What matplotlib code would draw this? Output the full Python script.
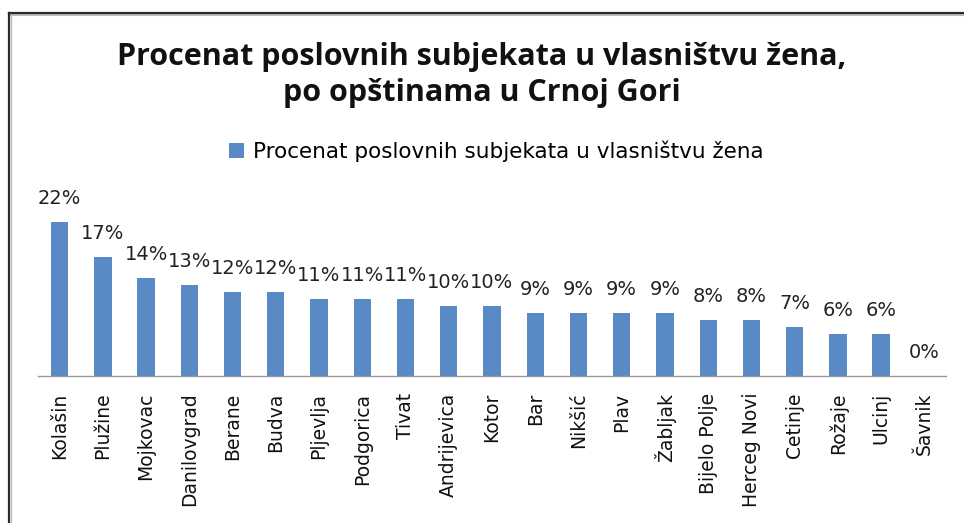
import matplotlib
matplotlib.use("Agg")
import matplotlib.pyplot as plt
from matplotlib.lines import Line2D
from matplotlib.patches import Patch

categories = ["Kolašin", "Plužine", "Mojkovac", "Danilovgrad", "Berane", "Budva",
              "Pljevlja", "Podgorica", "Tivat", "Andrijevica", "Kotor", "Bar",
              "Nikšić", "Plav", "Žabljak", "Bijelo Polje", "Herceg Novi", "Cetinje",
              "Rožaje", "Ulcinj", "Šavnik"]
values = [22, 17, 14, 13, 12, 12, 11, 11, 11, 10, 10, 9, 9, 9, 9, 8, 8, 7, 6, 6, 0]
series_name = "Procenat poslovnih subjekata u vlasništvu žena"
title = "Procenat poslovnih subjekata u vlasništvu žena,\npo opštinama u Crnoj Gori"

W, H = 964, 523
fig = plt.figure(figsize=(W / 100, H / 100), dpi=100)
fig.patch.set_facecolor("white")

# chart frame (cut at right and bottom)
fig.add_artist(Line2D([9 / W, 1], [1 - 15 / H, 1 - 15 / H], transform=fig.transFigure,
                      color="#bbbbbb", lw=1.5))
fig.add_artist(Line2D([11 / W, 11 / W], [0, 1 - 15 / H], transform=fig.transFigure,
                      color="#bbbbbb", lw=1.0))
fig.add_artist(Line2D([9 / W, 1], [1 - 13 / H, 1 - 13 / H], transform=fig.transFigure,
                      color="#2a2a2a", lw=1.6))
fig.add_artist(Line2D([9 / W, 9 / W], [0, 1 - 13 / H], transform=fig.transFigure,
                      color="#2a2a2a", lw=1.6))

left, right = 38 / W, 946 / W
bottom = 1 - 376 / H
top = 1 - 201 / H
ax = fig.add_axes([left, bottom, right - left, top - bottom])

x = list(range(len(categories)))
bar_color = "#5A8AC6"
ax.bar(x, values, width=0.4, color=bar_color)
ax.set_xlim(-0.5, len(categories) - 0.5)
ax.set_ylim(0, 25)

for xi, v in zip(x, values):
    ax.text(xi, v + 3.3, f"{v}%", ha="center", va="center", fontsize=14,
            color="#222222", family="DejaVu Sans")

for s in ["top", "right", "left"]:
    ax.spines[s].set_visible(False)
ax.spines["bottom"].set_color("#999999")
ax.spines["bottom"].set_linewidth(1.0)
ax.set_yticks([])
ax.set_xticks(x)
ax.set_xticklabels(categories, rotation=90, fontsize=13.5, color="#111111",
                   family="DejaVu Sans")
ax.tick_params(axis="x", length=0, pad=12)

fig.text(0.5, 1 - 75 / H, title, ha="center", va="center", fontsize=22,
         fontweight="bold", family="Open Sans", linespacing=1.3, color="#111111")

handles = [Patch(facecolor=bar_color, edgecolor="none")]
fig.legend(handles, [series_name], loc="center", bbox_to_anchor=(496 / W, 1 - 151 / H),
           frameon=False, handlelength=0.7, handleheight=0.7,
           handletextpad=0.4, prop={"family": "DejaVu Sans", "size": 15.5})

fig.savefig("out.png", dpi=100, facecolor="white")
